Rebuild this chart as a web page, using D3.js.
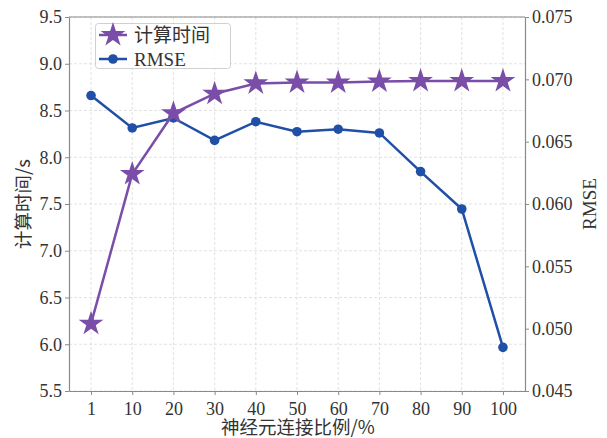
<!DOCTYPE html>
<html><head><meta charset="utf-8">
<script src="https://cdn.jsdelivr.net/npm/d3@7/dist/d3.min.js"></script>
<style>
html,body{margin:0;padding:0;background:#fff;}
text{font-family:"Liberation Serif","Times New Roman","Noto Sans CJK SC",serif;}
</style></head>
<body><svg id="c" width="607" height="438"></svg>
<script>
const categories = ["1","10","20","30","40","50","60","70","80","90","100"];
const timeValues = [6.22,7.82,8.47,8.68,8.79,8.80,8.80,8.81,8.815,8.815,8.815];
const rmseValues = [0.0687,0.0661,0.0669,0.0651,0.0666,0.0658,0.0660,0.0657,0.0626,0.0596,0.0485];
const leftTicks = [5.5,6.0,6.5,7.0,7.5,8.0,8.5,9.0,9.5];
const rightTicks = [0.045,0.050,0.055,0.060,0.065,0.070,0.075];

const svg = d3.select("#c");
const L = 69, R = 525, T = 17, B = 391;
const purple = "#7a4ea8", blue = "#1f4fa6", spine = "#8a8a8a", txt = "#333";
const cjk = "'Noto Sans CJK SC','Liberation Serif',serif";
const serif = "'Liberation Serif',serif";

const x = d3.scalePoint().domain(categories).range([L, R]).padding(0.535);
const yL = d3.scaleLinear().domain([5.5, 9.5]).range([B, T]);
const yR = d3.scaleLinear().domain([0.045, 0.075]).range([B, T]);

// grid
const g = svg.append("g");
g.selectAll(".gx").data(categories).enter().append("line")
  .attr("x1", d => x(d)).attr("x2", d => x(d)).attr("y1", T).attr("y2", B)
  .attr("stroke", "#dadada").attr("stroke-width", 0.8).attr("stroke-dasharray", "3,2");
g.selectAll(".gy").data(leftTicks).enter().append("line")
  .attr("x1", L).attr("x2", R).attr("y1", d => yL(d)).attr("y2", d => yL(d))
  .attr("stroke", "#dadada").attr("stroke-width", 0.8).attr("stroke-dasharray", "3,2");

// axes
function styleAxis(sel){
  sel.selectAll("path.domain").attr("stroke", spine).attr("stroke-width", 1.2);
  sel.selectAll(".tick line").attr("stroke", spine).attr("stroke-width", 1);
  sel.selectAll(".tick text").attr("fill", txt).style("font-family", serif).style("font-size", "18px");
}
const ax = svg.append("g").attr("transform", `translate(0,${B})`)
  .call(d3.axisBottom(x).tickSize(4).tickPadding(7).tickSizeOuter(0));
styleAxis(ax);
const ayl = svg.append("g").attr("transform", `translate(${L},0)`)
  .call(d3.axisLeft(yL).tickValues(leftTicks).tickFormat(d3.format(".1f")).tickSize(4).tickPadding(3).tickSizeOuter(0));
styleAxis(ayl);
const ayr = svg.append("g").attr("transform", `translate(${R},0)`)
  .call(d3.axisRight(yR).tickValues(rightTicks).tickFormat(d3.format(".3f")).tickSize(4).tickPadding(3).tickSizeOuter(0));
styleAxis(ayr);
// top spine
svg.append("line").attr("x1", L).attr("x2", R).attr("y1", T).attr("y2", T).attr("stroke", spine).attr("stroke-width", 1.2);

// lines
const lineT = d3.line().x((d,i) => x(categories[i])).y(d => yL(d));
const lineR = d3.line().x((d,i) => x(categories[i])).y(d => yR(d));
svg.append("path").datum(rmseValues).attr("d", lineR).attr("fill", "none").attr("stroke", blue).attr("stroke-width", 2.5);
svg.selectAll(".cr").data(rmseValues).enter().append("circle")
  .attr("cx", (d,i) => x(categories[i])).attr("cy", d => yR(d)).attr("r", 4.8).attr("fill", blue);
svg.append("path").datum(timeValues).attr("d", lineT).attr("fill", "none").attr("stroke", purple).attr("stroke-width", 2.5);
const star = d3.symbol().type(d3.symbolStar).size(190);
svg.selectAll(".st").data(timeValues).enter().append("path")
  .attr("d", star).attr("transform", (d,i) => `translate(${x(categories[i])},${yL(d)})`).attr("fill", purple);

// legend
const lg = svg.append("g");
lg.append("rect").attr("x", 95.5).attr("y", 23.5).attr("width", 135).attr("height", 45).attr("rx", 3)
  .attr("fill", "#fff").attr("fill-opacity", 0.85).attr("stroke", "#d0d0d0");
lg.append("line").attr("x1", 99).attr("x2", 127).attr("y1", 35).attr("y2", 35).attr("stroke", purple).attr("stroke-width", 2.5);
lg.append("path").attr("d", star).attr("transform", "translate(113,35)").attr("fill", purple);
lg.append("text").attr("x", 134).attr("y", 35).attr("dy", "0.36em").text("计算时间")
  .style("font-family", cjk).style("font-size", "19px").attr("fill", txt);
lg.append("line").attr("x1", 99).attr("x2", 127).attr("y1", 59).attr("y2", 59).attr("stroke", blue).attr("stroke-width", 2.5);
lg.append("circle").attr("cx", 113).attr("cy", 59).attr("r", 4.8).attr("fill", blue);
lg.append("text").attr("x", 134).attr("y", 59).attr("dy", "0.35em").text("RMSE")
  .style("font-family", serif).style("font-size", "19px").attr("fill", txt);

// axis titles
svg.append("text").attr("x", 298).attr("y", 434).attr("text-anchor", "middle").text("神经元连接比例/%")
  .style("font-family", cjk).style("font-size", "18.5px").attr("fill", txt);
svg.append("text").attr("transform", `translate(30,${(T+B)/2}) rotate(-90)`).attr("text-anchor", "middle").text("计算时间/s")
  .style("font-family", cjk).style("font-size", "18.5px").attr("fill", txt);
svg.append("text").attr("transform", `translate(589,${(T+B)/2}) rotate(-90)`).attr("text-anchor", "middle").attr("dy", "0.35em").text("RMSE")
  .style("font-family", serif).style("font-size", "19px").attr("fill", txt);
</script></body></html>
